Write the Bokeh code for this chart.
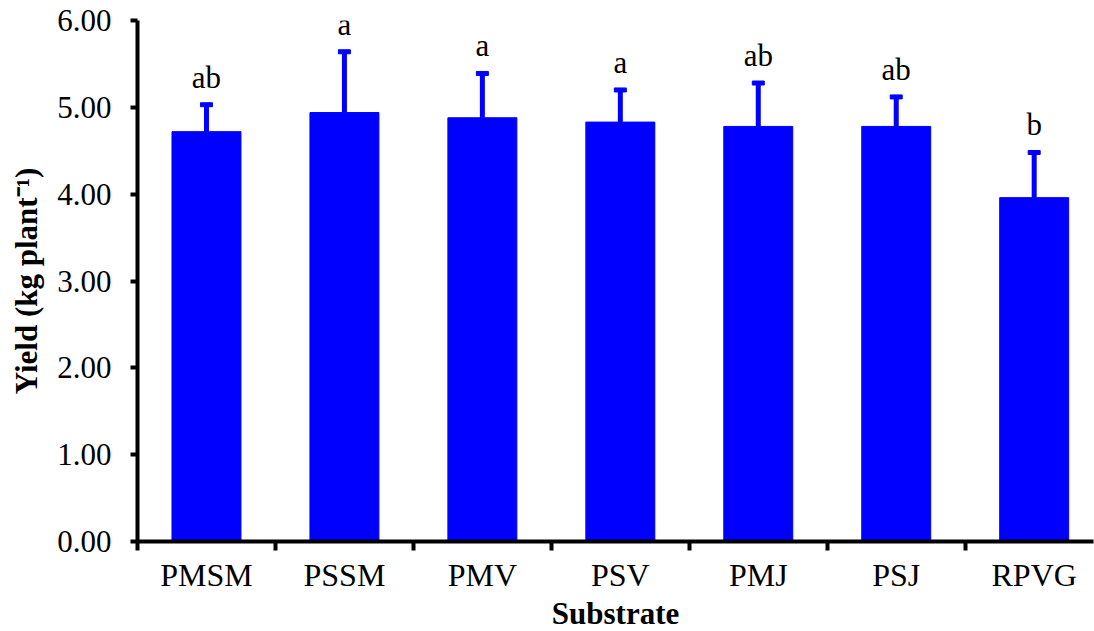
from bokeh.plotting import figure
from bokeh.models import Range1d, FixedTicker, ColumnDataSource, NumeralTickFormatter
from bokeh.core.properties import value
from bokeh.embed import file_html
from bokeh.resources import INLINE

substrates = ["PMSM", "PSSM", "PMV", "PSV", "PMJ", "PSJ", "RPVG"]
yield_mean = [4.72, 4.94, 4.88, 4.83, 4.78, 4.78, 3.96]
yield_err = [0.31, 0.70, 0.51, 0.37, 0.50, 0.34, 0.52]
letters = ["ab", "a", "a", "a", "ab", "ab", "b"]
y_ticks = [0, 1, 2, 3, 4, 5, 6]

FONT = "Liberation Serif"
BLUE = "#0000FF"

xs = [i + 0.5 for i in range(len(substrates))]
upper = [m + e for m, e in zip(yield_mean, yield_err)]
src = ColumnDataSource(dict(x=xs, top=yield_mean, upper=upper, lab=letters))

p = figure(frame_width=956, frame_height=521, output_backend="svg", toolbar_location=None,
           x_range=Range1d(0, 6.93), y_range=Range1d(0, 6))
p.min_border_left = 137
p.min_border_right = 1
p.min_border_top = 20
p.min_border_bottom = 89
p.outline_line_color = None
p.xgrid.grid_line_color = None
p.ygrid.grid_line_color = None

p.vbar(x="x", top="top", width=0.5, bottom=0, source=src, color=BLUE)
p.segment(x0="x", x1="x", y0="top", y1="upper", source=src, line_color=BLUE, line_width=5)
p.rect(x="x", y="upper", width=12, height=4, width_units="screen", height_units="screen",
       source=src, color=BLUE)
p.text(x="x", y="upper", text="lab", source=src, text_align="center", text_baseline="bottom",
       y_offset=-10, text_font=value(FONT), text_font_size="31px", text_color="black")

# x axis
xa = p.xaxis[0]
xa.ticker = FixedTicker(ticks=xs, minor_ticks=list(range(len(substrates) + 1)))
xa.major_label_overrides = {x: s for x, s in zip(xs, substrates)}
xa.major_tick_out = 0
xa.major_tick_in = 0
xa.minor_tick_out = 9
xa.minor_tick_in = 0
xa.minor_tick_line_width = 4
xa.minor_tick_line_color = "black"
xa.axis_line_width = 4
xa.axis_line_color = "black"
xa.major_label_text_font = FONT
xa.major_label_text_font_size = "32px"
xa.major_label_text_color = "black"
xa.major_label_standoff = 6
xa.axis_label = "Substrate"
xa.axis_label_text_font = FONT
xa.axis_label_text_font_size = "31px"
xa.axis_label_text_font_style = "bold"
xa.axis_label_text_color = "black"
xa.axis_label_standoff = 0

# y axis
ya = p.yaxis[0]
ya.ticker = FixedTicker(ticks=y_ticks, minor_ticks=[])
ya.formatter = NumeralTickFormatter(format="0.00")
ya.major_tick_out = 7
ya.major_tick_in = 0
ya.major_tick_line_width = 4
ya.major_tick_line_color = "black"
ya.minor_tick_out = 0
ya.minor_tick_in = 0
ya.axis_line_width = 4
ya.axis_line_color = "black"
ya.major_label_text_font = FONT
ya.major_label_text_font_size = "31px"
ya.major_label_text_color = "black"
ya.major_label_standoff = 19
ya.axis_label = "Yield (kg plant\u207b\u00b9)"
ya.axis_label_text_font = FONT
ya.axis_label_text_font_size = "31px"
ya.axis_label_text_font_style = "bold"
ya.axis_label_text_color = "black"
ya.axis_label_standoff = 10

open("out.html", "w").write(file_html(p, INLINE))
